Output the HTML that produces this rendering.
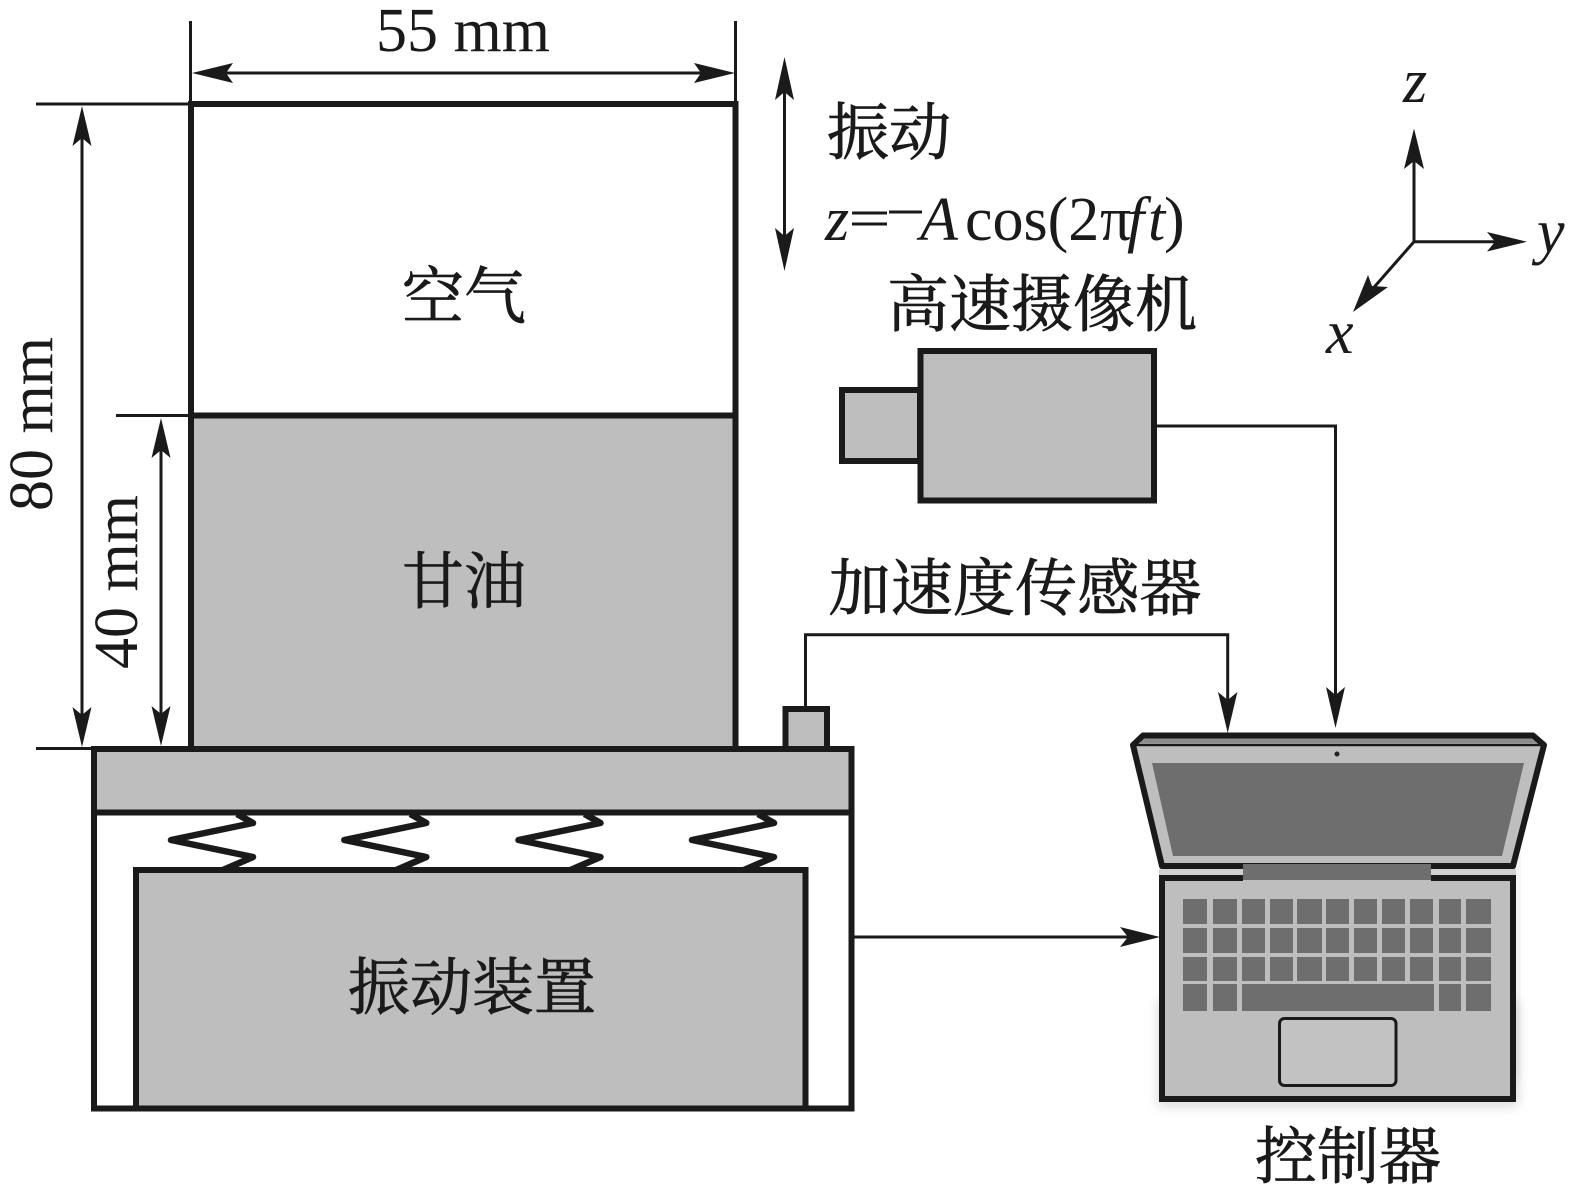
<!DOCTYPE html>
<html><head><meta charset="utf-8"><style>
html,body{margin:0;padding:0;background:#fff}
svg{display:block}
.c{font-family:"Liberation Serif","Noto Serif CJK SC",serif;font-size:62px;fill:#1a1a1a;stroke:#1a1a1a;stroke-width:.8px;text-anchor:middle}
.l{font-family:"Liberation Serif",serif;font-size:62px;fill:#1a1a1a}
.i{font-style:italic}
</style></head><body>
<svg width="1570" height="1193" viewBox="0 0 1570 1193" xmlns="http://www.w3.org/2000/svg">
<defs>
<filter id="s" x="-10%" y="-10%" width="120%" height="120%"><feGaussianBlur stdDeviation="6"/></filter>
<g id="sp"><path d="M237 814 L253 823 L171 840 L253 857 L223 870" fill="none" stroke="#1a1a1a" stroke-width="6.5" stroke-linejoin="round"/></g>
</defs>

<g fill="none" stroke="#1a1a1a" stroke-width="3">
<path d="M190.5 21V102M735.5 21V102M36 104H190M116 415.5H190M36 748.5H95"/>
</g>
<rect x="191" y="104" width="544.5" height="311.5" fill="#fff" stroke="#1a1a1a" stroke-width="6"/>
<rect x="191" y="415.5" width="544.5" height="333.5" fill="#bebebe" stroke="#1a1a1a" stroke-width="6"/>
<rect x="94" y="749" width="757.5" height="359.5" fill="#fff" stroke="#1a1a1a" stroke-width="6"/>
<rect x="94" y="749" width="757.5" height="63.5" fill="#bebebe" stroke="#1a1a1a" stroke-width="6"/>
<use href="#sp"/><use href="#sp" x="173.3"/><use href="#sp" x="347.5"/><use href="#sp" x="521"/>
<rect x="136" y="870" width="669.5" height="238.5" fill="#bebebe" stroke="#1a1a1a" stroke-width="6"/>
<rect x="785.5" y="709" width="41.5" height="40" fill="#bebebe" stroke="#1a1a1a" stroke-width="6"/>
<rect x="842" y="390" width="78" height="71" fill="#bebebe" stroke="#1a1a1a" stroke-width="6"/>
<rect x="920.5" y="351" width="233.5" height="149.5" fill="#bebebe" stroke="#1a1a1a" stroke-width="6"/>

<g fill="none" stroke="#1a1a1a" stroke-width="3">
<path d="M200 73H726M82 114V738M161 426V738M784.5 65V262"/>
<path d="M805.5 707V634.7H1227.7V722M1155 426H1335.5V716M853 937H1150"/>
<path d="M1414 140V241.7M1414 241.7H1518M1414 241.7L1362 301"/>
</g>
<g fill="#1a1a1a">
<path d="M192 73L233 63L226 73L233 83Z"/><path d="M735 73L694 63L701 73L694 83Z"/>
<path d="M82 106L72.5 146L82 138L91.5 146Z"/><path d="M82 747L72.5 707L82 715L91.5 707Z"/>
<path d="M161 418L151.5 458L161 450L170.5 458Z"/><path d="M161 746L151.5 706L161 714L170.5 706Z"/>
<path d="M784.5 57L775 100L784.5 92L794 100Z"/><path d="M784.5 271L775 228L784.5 236L794 228Z"/>
<path d="M1227.7 733L1218 692L1227.7 700L1237.4 692Z"/><path d="M1335.5 728L1326 687L1335.5 695L1345 687Z"/>
<path d="M1160 937L1120 927L1128 937L1120 947Z"/>
<path d="M1414 128.5L1404 169L1414 161L1424 169Z"/>
<path d="M1527 241.7L1487 232L1495 241.7L1487 251.5Z"/>
<path d="M1353 312L1368 275L1372 286L1388 287Z"/>
</g>

<!-- laptop -->
<rect x="1158" y="1000" width="360" height="106" fill="#000" opacity=".16" filter="url(#s)"/>
<rect x="1512" y="780" width="8" height="300" fill="#000" opacity=".08" filter="url(#s)"/>
<path d="M1143 735.5H1533L1544 745L1513 866H1162L1133 745Z" fill="#bebebe" stroke="#1a1a1a" stroke-width="6" stroke-linejoin="round"/>
<path d="M1145 738.5H1531L1537 743H1139Z" fill="#8c8c8c"/>
<path d="M1136 745H1541" stroke="#1a1a1a" stroke-width="2.5"/>
<path d="M1152 763H1524L1502 856H1173Z" fill="#6e6e6e"/>
<circle cx="1337" cy="754" r="2.5" fill="#222"/>
<rect x="1159" y="869" width="357" height="6" fill="#d0d0d0"/>
<rect x="1162" y="878" width="351" height="221" fill="#bebebe" stroke="#1a1a1a" stroke-width="6"/>
<rect x="1243" y="864" width="188" height="16" fill="#6e6e6e"/>
<rect x="1243" y="880" width="188" height="3" fill="#bebebe"/>
<g fill="#6e6e6e">
<path d="M1183 899h24v25h-24zM1213 899h24v25h-24zM1242 899h23v25h-23zM1270 899h23v25h-23zM1297 899h25v25h-25zM1326 899h23v25h-23zM1354 899h23v25h-23zM1382 899h23v25h-23zM1410 899h23v25h-23zM1439 899h22v25h-22zM1466 899h25v25h-25z"/>
<path d="M1183 928h24v25h-24zM1213 928h24v25h-24zM1242 928h23v25h-23zM1270 928h23v25h-23zM1297 928h25v25h-25zM1326 928h23v25h-23zM1354 928h23v25h-23zM1382 928h23v25h-23zM1410 928h23v25h-23zM1439 928h22v25h-22zM1466 928h25v25h-25z"/>
<path d="M1183 957h24v24h-24zM1213 957h24v24h-24zM1242 957h23v24h-23zM1270 957h23v24h-23zM1297 957h25v24h-25zM1326 957h23v24h-23zM1354 957h23v24h-23zM1382 957h23v24h-23zM1410 957h23v24h-23zM1439 957h22v24h-22zM1466 957h25v24h-25z"/>
<path d="M1183 984h24v27h-24zM1213 984h24v27h-24zM1242 984h192v27h-192zM1439 984h22v27h-22zM1466 984h25v27h-25z"/>
</g>
<rect x="1279.5" y="1018.5" width="116.5" height="67" rx="5" fill="#c2c2c2" stroke="#1a1a1a" stroke-width="3"/>

<!-- labels -->
<text class="c" x="464" y="318">空气</text>
<text class="c" x="464" y="603">甘油</text>
<text class="c" x="472" y="1009">振动装置</text>
<text class="c" x="1042" y="326" textLength="310">高速摄像机</text>
<text class="c" x="1015" y="610" textLength="373">加速度传感器</text>
<text class="c" x="1348" y="1178" textLength="186">控制器</text>
<text class="c" x="889" y="154">振动</text>
<text class="l" x="463" y="51" text-anchor="middle">55 mm</text>
<text class="l" transform="translate(52 424) rotate(-90)" text-anchor="middle">80 mm</text>
<text class="l" transform="translate(137 582) rotate(-90)" text-anchor="middle">40 mm</text>
<text class="l i" x="825" y="240">z</text>
<path d="M852 213H887M852 224H887M889 212H922" stroke="#1a1a1a" stroke-width="3"/>
<text class="l i" x="920" y="240">A</text>
<text class="l" x="965" y="240">cos(2</text>
<text class="l" x="1100" y="240" font-size="54">π</text>
<text class="l i" x="1127" y="240">f</text>
<text class="l i" x="1148" y="240">t</text>
<text class="l" x="1164" y="240">)</text>
<text class="l i" x="1403" y="102">z</text>
<text class="l i" x="1537" y="252">y</text>
<text class="l i" x="1326" y="353">x</text>
</svg>
</body></html>
